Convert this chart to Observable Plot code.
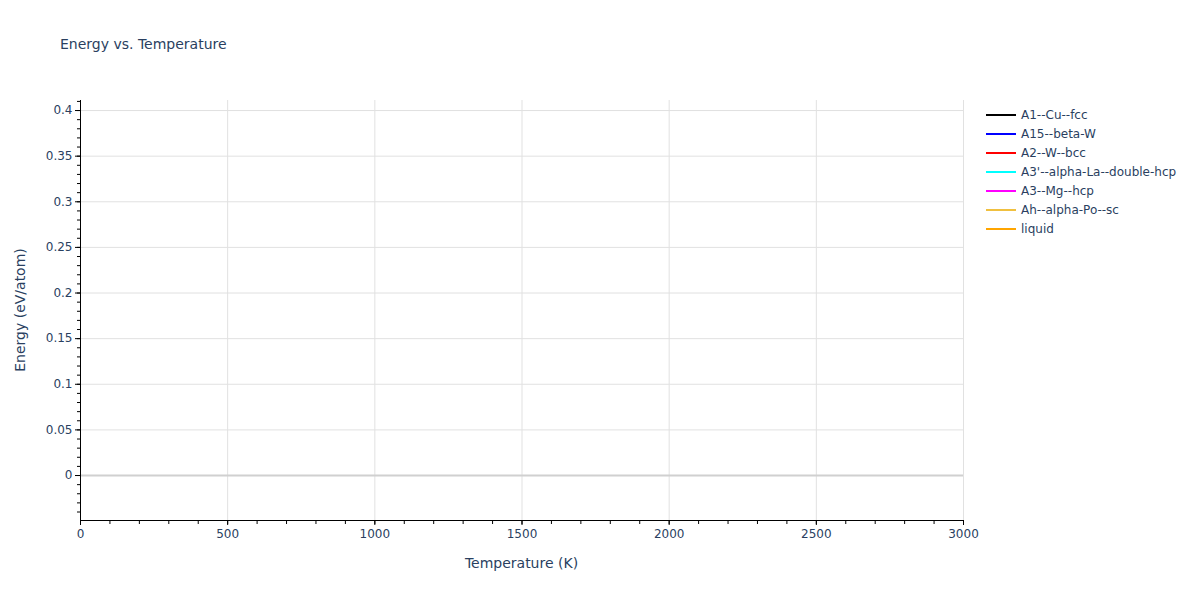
<!DOCTYPE html>
<html>
<head>
<meta charset="utf-8">
<script src="https://cdn.jsdelivr.net/npm/d3@7"></script>
<script src="https://cdn.jsdelivr.net/npm/@observablehq/plot@0.6"></script>
<style>
  html, body { margin: 0; padding: 0; background: #fff; }
  #wrap { position: relative; width: 1200px; height: 600px; font-family: "DejaVu Sans", verdana, arial, sans-serif; color: #2a3f5f; }
  #title { position: absolute; left: 60px; top: 36px; font-size: 14px; z-index: 2; }
  #legend { position: absolute; left: 986px; top: 105px; font-size: 12px; z-index: 2; }
  .item { display: flex; align-items: center; height: 19px; }
  .swatch { width: 30px; height: 2px; margin-right: 5px; }
  svg { position: absolute; left: 0; top: 0; }
</style>
</head>
<body>
<div id="wrap">
  <div id="title">Energy vs. Temperature</div>
  <div id="legend"></div>
</div>
<script>
// Series (no visible data points in the reference chart)
const seriesNames = ["A1--Cu--fcc", "A15--beta-W", "A2--W--bcc", "A3'--alpha-La--double-hcp", "A3--Mg--hcp", "Ah--alpha-Po--sc", "liquid"];
const seriesColors = ["#000000", "#0000ff", "#ff0000", "#00ffff", "#ff00ff", "#f0c040", "#ffa500"];
const temperatures = [];          // K
const energyValues = seriesNames.map(() => []); // eV/atom, empty per series

// Axes
const xDomain = [0, 3000];
const yDomain = [-0.0493, 0.411];
const xMajorTicks = [0, 500, 1000, 1500, 2000, 2500, 3000];
const xMinorTicks = d3.range(0, 3001, 100);
const yMajorTicks = [0, 0.05, 0.1, 0.15, 0.2, 0.25, 0.3, 0.35, 0.4];
const yMinorTicks = d3.range(-4, 42).map(i => i / 100);

const data = [];
seriesNames.forEach((name, i) => {
  energyValues[i].forEach((e, j) => data.push({series: name, T: temperatures[j], E: e}));
});

const fmt = d => String(+d.toFixed(2));
const font = '"DejaVu Sans", verdana, arial, sans-serif';
const blank = () => "";

const chart = Plot.plot({
  width: 1200, height: 600,
  marginLeft: 80, marginRight: 237, marginTop: 100, marginBottom: 80,
  style: {fontFamily: font, fontSize: "12px", color: "#2a3f5f", background: "transparent"},
  x: {domain: xDomain},
  y: {domain: yDomain},
  color: {domain: seriesNames, range: seriesColors},
  marks: [
    Plot.gridX(xMajorTicks.filter(d => d > 0), {stroke: "#e1e1e1", strokeOpacity: 1}),
    Plot.gridY(yMajorTicks.filter(d => d !== 0), {stroke: "#e1e1e1", strokeOpacity: 1}),
    Plot.ruleY([0], {stroke: "#d0d0d0", strokeWidth: 2}),
    Plot.line(data, {x: "T", y: "E", z: "series", stroke: "series", strokeWidth: 2}),
    Plot.axisX({ticks: xMinorTicks, tickSize: 4, tickFormat: blank, label: null, stroke: "#000"}),
    Plot.axisX({ticks: xMajorTicks, tickSize: 5, tickPadding: 4, tickFormat: d => String(d), label: null, fill: "#2a3f5f", stroke: "#000", fontSize: 12}),
    Plot.axisY({ticks: yMinorTicks, tickSize: 3, tickFormat: blank, label: null, stroke: "#000"}),
    Plot.axisY({ticks: yMajorTicks, tickSize: 5, tickPadding: 3, tickFormat: fmt, label: null, fill: "#2a3f5f", stroke: "#000", fontSize: 12}),
    Plot.frame({anchor: "left", stroke: "#000"}),
    Plot.frame({anchor: "bottom", stroke: "#000"})
  ]
});

const svg = d3.select(chart);
svg.append("text")
  .attr("x", (80 + 963) / 2).attr("y", 568)
  .attr("text-anchor", "middle").attr("fill", "#2a3f5f")
  .style("font-size", "14px").style("font-family", font)
  .text("Temperature (K)");
svg.append("text")
  .attr("transform", `translate(25, ${(100 + 520) / 2}) rotate(-90)`)
  .attr("text-anchor", "middle").attr("fill", "#2a3f5f")
  .style("font-size", "14px").style("font-family", font)
  .text("Energy (eV/atom)");

document.getElementById("wrap").appendChild(chart);

const legend = d3.select("#legend");
seriesNames.forEach((name, i) => {
  const row = legend.append("div").attr("class", "item");
  row.append("div").attr("class", "swatch").style("background", seriesColors[i]);
  row.append("span").text(name);
});
</script>
</body>
</html>
